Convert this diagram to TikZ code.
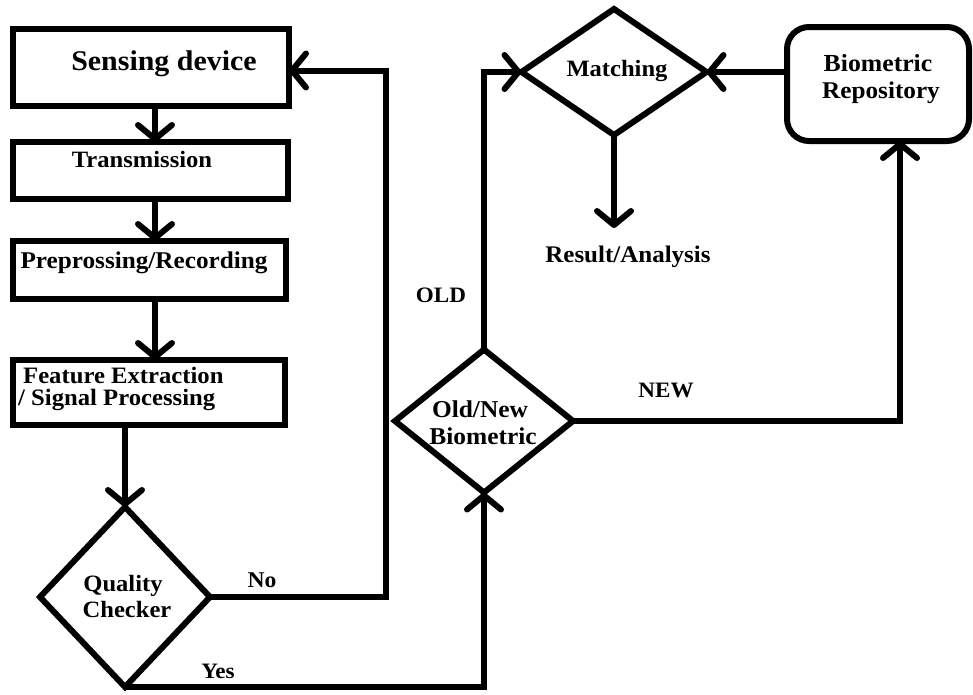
\documentclass[tikz,border=0pt]{standalone}
\usepackage{fontspec}
\setmainfont{Liberation Serif}
\usetikzlibrary{arrows.meta,shapes.geometric,calc}
\newcommand{\sxt}[1]{\scalebox{1.05}[1.0]{#1}}
\newcommand{\fsz}[1]{\bfseries\fontsize{#1}{#1}\selectfont}
\begin{document}
\begin{tikzpicture}[x=1pt,y=-1pt,
  lbl/.style={font=\fsz{23.4}, inner sep=0pt, anchor=base},
  box/.style={draw, rectangle, line width=6pt, inner sep=0pt, outer sep=0pt},
  dia/.style={draw, diamond, line width=6pt, inner sep=0pt, outer sep=0pt},
  arr/.style={line width=6pt, -{Straight Barb[length=14pt,width=34pt,round]}}]
\useasboundingbox (0,0) rectangle (973,694);
% boxes
\node[box, minimum width=276pt, minimum height=77pt] (sense) at (151,67.5) {};
\node[box, minimum width=275pt, minimum height=57pt] (trans) at (150.5,170.5) {};
\node[box, minimum width=273pt, minimum height=58pt] (prep) at (149.5,270) {};
\node[box, minimum width=272pt, minimum height=65pt] (feat) at (149,392.5) {};
\node[dia, minimum width=170pt, minimum height=180pt] (qc) at (125,597) {};
\node[dia, minimum width=178pt, minimum height=143pt] (on) at (484,421) {};
\node[dia, minimum width=185pt, minimum height=126pt] (mat) at (614,72) {};
\node[box, rounded corners=22pt, minimum width=182pt, minimum height=114pt] (bio) at (878,84) {};
% texts
\node[lbl, font=\fsz{28.5}] (tsense) at (164,70) {\sxt{Sensing device}};
\node[lbl] (ttrans) at (142,167) {\sxt{Transmission}};
\node[lbl, font=\fsz{24}] (tprep) at (144,268) {\sxt{Preprossing/Recording}};
\node[lbl, anchor=base west, font=\fsz{23.5}] (tfeat1) at (23,383) {\sxt{Feature Extraction}};
\node[lbl, anchor=base west, font=\fsz{23.5}] (tfeat2) at (18,405) {\sxt{/ Signal Processing}};
\node[lbl] (tqc1) at (123,591) {\sxt{Quality}};
\node[lbl] (tqc2) at (127,617) {\sxt{Checker}};
\node[lbl, font=\fsz{24.2}] (ton1) at (480,417) {\sxt{Old/New}};
\node[lbl, font=\fsz{24.2}] (ton2) at (483,444) {\sxt{Biometric}};
\node[lbl] (tmat) at (617,76) {\sxt{Matching}};
\node[lbl, font=\fsz{23.8}] (tres) at (628,262) {\sxt{Result/Analysis}};
\node[lbl, font=\fsz{24.5}] (tbio1) at (878,71) {\sxt{Biometric}};
\node[lbl, font=\fsz{24}] (tbio2) at (881,98) {\sxt{Repository}};
\node[lbl, font=\fsz{22.5}] (tno) at (262,587) {\sxt{No}};
\node[lbl, font=\fsz{22}] (tyes) at (218,678) {\sxt{Yes}};
\node[lbl, font=\fsz{22}] (told) at (441,302) {\sxt{OLD}};
\node[lbl, font=\fsz{22}] (tnew) at (666,397) {\sxt{NEW}};
% helper coordinates
\coordinate (col) at (155,0);
\coordinate (nox) at (386,0);
\coordinate (newx) at (900,0);
\coordinate (resend) at (614,228);
% connectors
\draw[arr] (sense.south -| col) -- (trans.north -| col);
\draw[arr] (trans.south -| col) -- (prep.north -| col);
\draw[arr] (prep.south -| col) -- (feat.north -| col);
\draw[arr] (feat.south -| qc.north) -- (qc.north);
\draw[arr] (qc.east) -- (qc.east -| nox) -- ($(nox |- sense.east)+(0,3)$) -- ($(sense.east)+(0,3)$);
\draw[arr] (qc.south) -| (on.south);
\draw[arr] (on.north) |- (mat.west);
\draw[arr] (bio.west |- mat.east) -- (mat.east);
\draw[arr] (mat.south) -- (mat.south |- resend);
\draw[arr] (on.east) -| (bio.south -| newx);
\end{tikzpicture}
\end{document}
